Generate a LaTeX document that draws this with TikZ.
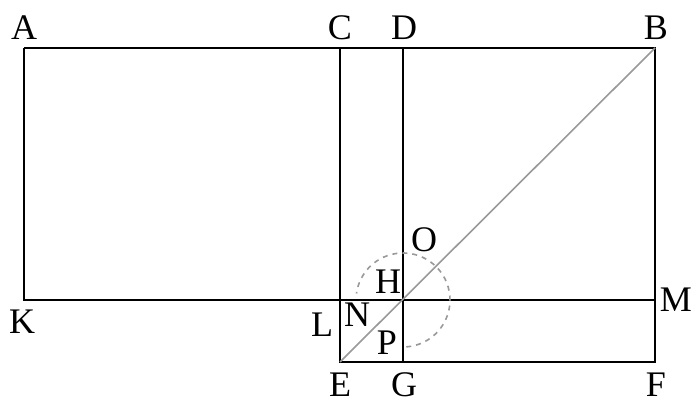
\documentclass[tikz,border=0pt]{standalone}
\usepackage{fontspec}
\setmainfont{Liberation Serif}
\begin{document}
\begin{tikzpicture}[x=1pt,y=-1pt,
  edge/.style={line width=1.7pt,black},
  diag/.style={line width=1.6pt,gray!80},
  lab/.style={inner sep=0pt,font=\fontsize{36}{38}\selectfont}]
\useasboundingbox (0,0) rectangle (697,401);
\coordinate (A) at (24,48);
\coordinate (C) at (340,48);
\coordinate (D) at (403,48);
\coordinate (B) at (655,48);
\coordinate (K) at (24,300);
\coordinate (L) at (340,300);
\coordinate (H) at (403,300);
\coordinate (M) at (655,300);
\coordinate (E) at (340,362);
\coordinate (G) at (403,362);
\coordinate (F) at (655,362);
\draw[edge] (A) -- (B) -- (F) -- (E) -- (C);
\draw[edge] (A) -- (K) -- (M);
\draw[edge] (D) -- (G);
\draw[diag] (E) -- (B);
\draw[diag,dashed,dash pattern=on 5pt off 5pt] ([shift={(86:47)}]H) arc[start angle=86,end angle=-172,radius=47];
\node[lab] (lA) at (24,28) {A};
\node[lab] (lC) at (340,28) {C};
\node[lab] (lD) at (404,28) {D};
\node[lab] (lB) at (656,28) {B};
\node[lab] (lK) at (22,322) {K};
\node[lab] (lL) at (322,325) {L};
\node[lab] (lN) at (357,315) {N};
\node[lab] (lH) at (388,282) {H};
\node[lab] (lO) at (424,240) {O};
\node[lab] (lP) at (387,343) {P};
\node[lab] (lM) at (676,300) {M};
\node[lab] (lE) at (340,385) {E};
\node[lab] (lG) at (404,385) {G};
\node[lab] (lF) at (656,385) {F};
\end{tikzpicture}
\end{document}
